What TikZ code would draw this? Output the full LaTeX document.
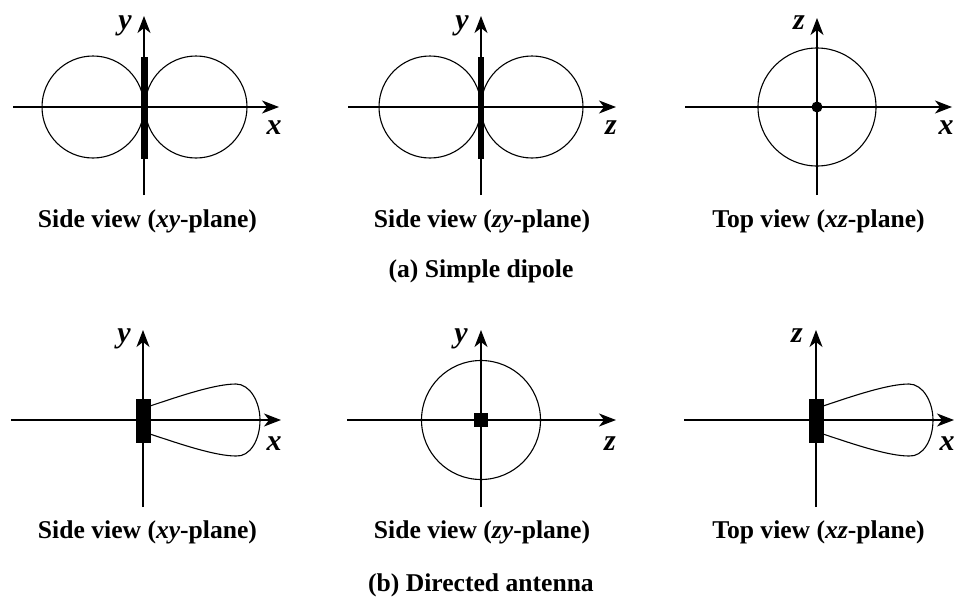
\documentclass[tikz,border=0pt]{standalone}
\usepackage{fontspec}
\setmainfont{Liberation Serif}
\usetikzlibrary{arrows.meta}
\tikzset{
  axis/.style={line width=1.1pt,black,-{Stealth[length=17pt,width=13pt,inset=5pt]}},
  lobe/.style={line width=1.1pt,black},
  solid box/.style={fill=black,draw=none,inner sep=0pt},
  captext/.style={font=\bfseries\fontsize{25.6}{28}\selectfont,inner sep=0pt,anchor=base},
  axlab/.style={font=\bfseries\itshape\fontsize{30}{32}\selectfont,inner sep=0pt,anchor=base},
}
\newcommand{\axes}[6]{% name, cx, cy, left, right, bottom
  \coordinate (#1L) at (#4,#3);
  \coordinate (#1R) at (#5,#3);
  \coordinate (#1B) at (#2,#6);
  \draw[axis] (#1L) -- (#1R);
}
\begin{document}
\begin{tikzpicture}[x=1pt,y=-1pt]
\useasboundingbox (0,0) rectangle (954,597);
% ---- top row
\axes{a}{144}{107}{13}{279}{195}
\coordinate (aT) at (144,16);
\draw[axis] (aB) -- (aT);
\draw[lobe] (93,107) circle[radius=51];
\draw[lobe] (196,107) circle[radius=51];
\node[solid box,minimum width=6.5pt,minimum height=102pt] (abar) at (144.3,107.5) {};
\node[axlab] (alaby) at (125,30) {y};
\node[axlab] (alabx) at (274,134) {x};
\node[captext] (acap) at (147.5,227) {Side view ({\itshape xy}-plane)};

\axes{b}{481}{107}{348}{616}{195}
\coordinate (bT) at (481,16);
\draw[axis] (bB) -- (bT);
\draw[lobe] (430,107) circle[radius=51];
\draw[lobe] (532,107) circle[radius=51];
\node[solid box,minimum width=6.5pt,minimum height=102pt] (bbar) at (481,107.5) {};
\node[axlab] (blaby) at (462,30) {y};
\node[axlab] (blabx) at (611,134) {z};
\node[captext] (bcap) at (482,227) {Side view ({\itshape zy}-plane)};

\axes{c}{817}{107}{685}{952}{195}
\coordinate (cT) at (817,18);
\draw[axis] (cB) -- (cT);
\draw[lobe] (817,107) circle[radius=59];
\node[circle,fill=black,inner sep=0pt,minimum size=11pt] (cdot) at (817,107) {};
\node[axlab] (claby) at (799,30) {z};
\node[axlab] (clabx) at (946,134) {x};
\node[captext] (ccap) at (818.5,227) {Top view ({\itshape xz}-plane)};

\node[captext] (atitle) at (481,277) {(a) Simple dipole};

% ---- bottom row
\axes{d}{143}{420}{11}{281}{507}
\coordinate (dT) at (143,330);
\draw[axis] (dB) -- (dT);
\draw[lobe] (150,406) .. controls (180,396) and (215,384) .. (236,384)
  .. controls (250,384) and (260,402) .. (260,420)
  .. controls (260,440) and (250,457) .. (236,456)
  .. controls (215,456) and (180,444) .. (150,434);
\node[solid box,minimum width=15pt,minimum height=44pt] (dbar) at (143,420.5) {};
\node[axlab] (dlaby) at (124,342) {y};
\node[axlab] (dlabx) at (274,450) {x};
\node[captext] (dcap) at (147.5,538) {Side view ({\itshape xy}-plane)};

\axes{e}{481}{420}{347}{616}{507}
\coordinate (eT) at (481,330);
\draw[axis] (eB) -- (eT);
\draw[lobe] (481,420) circle[radius=59.5];
\node[solid box,minimum width=14pt,minimum height=14pt] (esq) at (480.5,420) {};
\node[axlab] (elaby) at (461,342) {y};
\node[axlab] (elabx) at (610,450) {z};
\node[captext] (ecap) at (482,538) {Side view ({\itshape zy}-plane)};

\axes{f}{816}{420}{684}{954}{507}
\coordinate (fT) at (816,330);
\draw[axis] (fB) -- (fT);
\draw[lobe] (823,406) .. controls (853,396) and (888,384) .. (909,384)
  .. controls (923,384) and (933,402) .. (933,420)
  .. controls (933,440) and (923,457) .. (909,456)
  .. controls (888,456) and (853,444) .. (823,434);
\node[solid box,minimum width=15pt,minimum height=44pt] (fbar) at (816,420.5) {};
\node[axlab] (flaby) at (797,342) {z};
\node[axlab] (flabx) at (947,450) {x};
\node[captext] (fcap) at (818.5,538) {Top view ({\itshape xz}-plane)};

\node[captext] (btitle) at (481,591) {(b) Directed antenna};
\end{tikzpicture}
\end{document}
